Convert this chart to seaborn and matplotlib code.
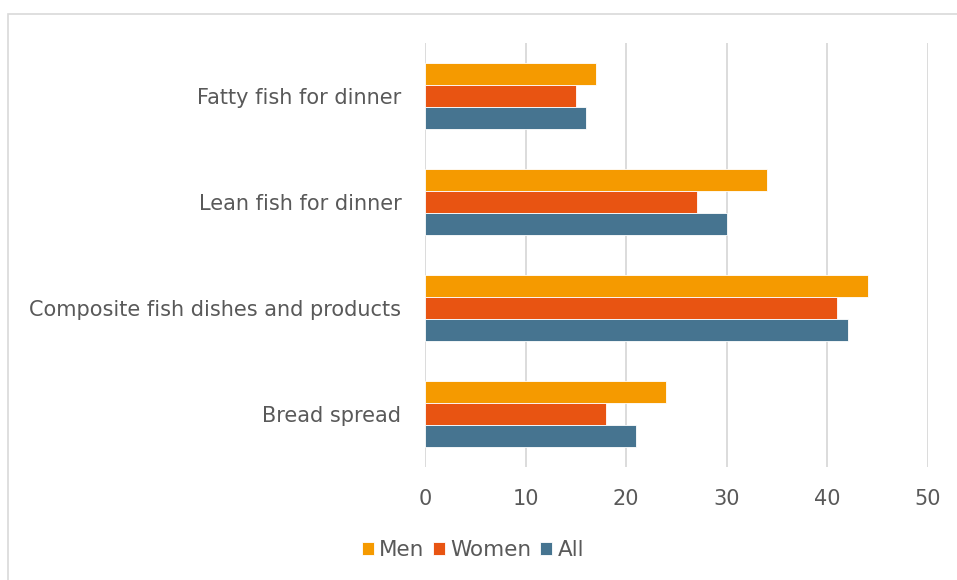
import matplotlib
matplotlib.use("Agg")
import matplotlib.pyplot as plt
from matplotlib.patches import Rectangle
import seaborn as sns
import pandas as pd

categories = ["Fatty fish for dinner", "Lean fish for dinner",
              "Composite fish dishes and products", "Bread spread"]
groups = ["Men", "Women", "All"]
men = [17, 34, 44, 24]
women = [15, 27, 41, 18]
all_ = [16, 30, 42, 21]
colors = ["#F59A00", "#E85412", "#467490"]

df = pd.DataFrame({
    "category": categories * 3,
    "group": [g for g in groups for _ in categories],
    "value": men + women + all_,
})

sns.set_style("white")
plt.rcParams["font.family"] = ["DejaVu Sans"]
text_color = "#595959"

fig = plt.figure(figsize=(9.57, 5.8), dpi=100)
ax = fig.add_axes([425 / 957, 1 - 467 / 580, (928 - 425) / 957, (467 - 43) / 580])

sns.barplot(data=df, x="value", y="category", hue="group", hue_order=groups,
            palette=colors, orient="h", width=0.62, edgecolor="white",
            linewidth=0.6, saturation=1, ax=ax)

ax.set_xlim(0, 50)
ax.set_xticks(range(0, 51, 10))
ax.grid(axis="x", color="#D9D9D9", linewidth=1.3)
ax.set_axisbelow(True)
for s in ax.spines.values():
    s.set_visible(False)
ax.set_xlabel("")
ax.set_ylabel("")
ax.tick_params(axis="both", length=0, labelsize=15, labelcolor=text_color)
ax.tick_params(axis="x", pad=16)
ax.tick_params(axis="y", pad=17)

leg = ax.legend(loc="center", bbox_to_anchor=(473 / 957, 1 - 550 / 580),
                bbox_transform=fig.transFigure, ncol=3, frameon=False,
                fontsize=15.5, handlelength=0.55, handleheight=0.55,
                handletextpad=0.25, columnspacing=0.4)
for t in leg.get_texts():
    t.set_color(text_color)

fig.patches.append(Rectangle((8 / 957, -0.1), 1.0, 1 - 14 / 580 + 0.1,
                             transform=fig.transFigure, fill=False,
                             edgecolor="#D9D9D9", linewidth=1.2))

fig.savefig("out.png", dpi=100)
